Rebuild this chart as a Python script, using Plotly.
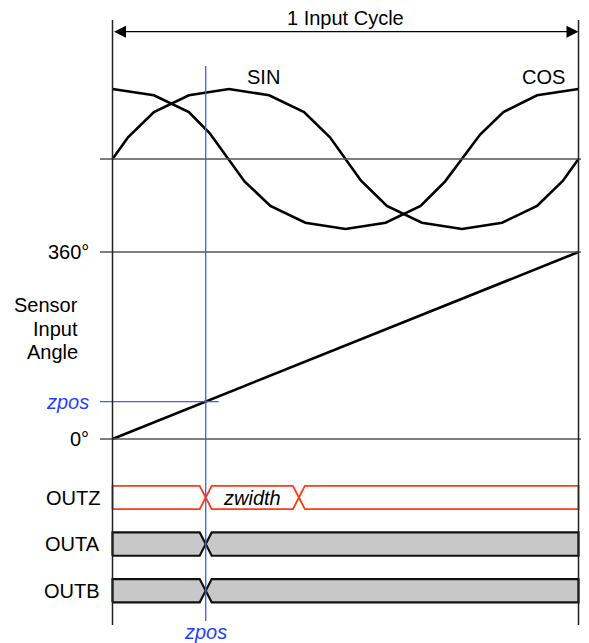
import plotly.graph_objects as go

# ---------------- data ----------------
sin_angle = [0, 12, 32, 59, 90, 121, 148, 168, 180, 192, 212, 239, 270, 301, 328, 348, 360]
sin_value = [0, 0.31, 0.67, 0.91, 1.0, 0.91, 0.67, 0.31, 0, -0.31, -0.67, -0.91, -1.0, -0.91, -0.67, -0.31, 0]
cos_angle = [0, 32, 59, 75, 102, 122, 149, 180, 211, 238, 257, 284, 302, 328, 360]
cos_value = [1.0, 0.91, 0.67, 0.37, -0.32, -0.67, -0.91, -1.0, -0.91, -0.67, -0.32, 0.35, 0.67, 0.91, 1.0]

ramp_time = [0, 360]
ramp_angle = [0, 360]

zpos = 72
zwidth = 72

signal_names = ["OUTZ", "OUTA", "OUTB"]
signal_transitions = [[zpos, zpos + zwidth], [zpos], [zpos]]
signal_line_colors = ["#ff3a14", "#111111", "#111111"]
signal_fill_colors = ["#ffffff", "#c8c8c8", "#c8c8c8"]

angle_ticks = [0, 360]
angle_tick_labels = ["0°", "360°"]

# ---------------- geometry (page pixels -> axis ranges) ----------------
OFF = 8                      # default page body margin
PW, PH = 589, 643            # page size
W, H = PW - OFF, PH - OFF    # figure size
X0_PX, DEG_PX = 112.5, 466.0 / 360.0

def fx(px):                  # page x pixel -> degrees
    return (px - X0_PX) / DEG_PX

def py(px):                  # page y pixel -> paper fraction
    return 1 - (px - OFF) / H

# sin/cos axis: zero at page px 159, amplitude 70 px
SZ, SA = 159.0, 70.0
# angle axis: 0 at page px 439, 360 at page px 252
AZ, AK = 439.0, 187.0 / 360.0
# digital rows: row 0 centre at page px 497.5, pitch 46.6 px
RZ, RP = 497.5, 46.6
HALF = 0.25
XH = 6.0 / DEG_PX

FONT = "Liberation Sans, Arial, sans-serif"
FS = 20
BLUE_LINE = "#3d5cff"
BLUE_TEXT = "#1f3fff"

fig = go.Figure()

fig.add_trace(go.Scatter(x=sin_angle, y=sin_value, mode="lines",
                         line=dict(color="#000000", width=2.6), yaxis="y", hoverinfo="skip"))
fig.add_trace(go.Scatter(x=cos_angle, y=cos_value, mode="lines",
                         line=dict(color="#000000", width=2.6), yaxis="y", hoverinfo="skip"))
fig.add_trace(go.Scatter(x=ramp_time, y=ramp_angle, mode="lines",
                         line=dict(color="#000000", width=2.6), yaxis="y2", hoverinfo="skip"))

for row, (name, trans, lc, fc) in enumerate(zip(signal_names, signal_transitions,
                                                  signal_line_colors, signal_fill_colors)):
    edges = [0] + list(trans) + [360]
    top, bot = row - HALF, row + HALF
    for i in range(len(edges) - 1):
        a, b = edges[i], edges[i + 1]
        lp = i > 0
        rp = i < len(edges) - 2
        xs, ys = [], []
        if lp:
            xs += [a, a + XH]; ys += [row, top]
        else:
            xs += [a, a]; ys += [bot, top]
        if rp:
            xs += [b - XH, b, b - XH]; ys += [top, row, bot]
        else:
            xs += [b, b]; ys += [top, bot]
        if lp:
            xs += [a + XH, a]; ys += [bot, row]
        else:
            xs += [a]; ys += [bot]
        fig.add_trace(go.Scatter(x=xs, y=ys, mode="lines", fill="toself", fillcolor=fc,
                                 line=dict(color=lc, width=1.8 if row == 0 else 2.2),
                                 yaxis="y3", hoverinfo="skip"))

shapes = []
xl, xrgt = fx(100), fx(PW)
shapes.append(dict(type="line", xref="x", yref="y", x0=xl, x1=xrgt, y0=0, y1=0,
                   line=dict(color="#555555", width=1.3)))
for t in angle_ticks:
    shapes.append(dict(type="line", xref="x", yref="y2", x0=xl, x1=xrgt, y0=t, y1=t,
                       line=dict(color="#555555", width=1.3)))
shapes.append(dict(type="line", xref="x", yref="y2", x0=xl, x1=zpos + 10, y0=zpos, y1=zpos,
                   line=dict(color=BLUE_LINE, width=1.3)))
for xv in [0, 360]:
    shapes.append(dict(type="line", xref="x", yref="paper", x0=xv, x1=xv, y0=py(625), y1=py(20),
                       line=dict(color="#222222", width=1.5)))
shapes.append(dict(type="line", xref="x", yref="paper", x0=zpos, x1=zpos, y0=py(621), y1=py(66),
                   line=dict(color=BLUE_LINE, width=1.3)))

ann = []
def txt(text, x, y, xanchor="center", color="#000000", italic=False, yref="paper"):
    t = f"<i>{text}</i>" if italic else text
    ann.append(dict(text=t, x=x, y=y, xref="x", yref=yref, xanchor=xanchor, yanchor="middle",
                    showarrow=False, font=dict(family=FONT, size=FS, color=color)))

ay_arrow = (SZ - 31.7) / SA
ann.append(dict(x=360, y=ay_arrow, ax=0, ay=ay_arrow, xref="x", yref="y",
                axref="x", ayref="y", text="", showarrow=True, arrowhead=2, arrowside="end+start",
                arrowsize=2.0, arrowwidth=1.2, arrowcolor="#000000", standoff=0, startstandoff=0))
txt("1 Input Cycle", 180, py(18.5))
txt("SIN", fx(263.3), py(77))
txt("COS", fx(543.3), py(77))

lx = fx(91)
for t, lab in zip(angle_ticks, angle_tick_labels):
    txt(lab, lx, t, xanchor="right", yref="y2")
txt("zpos", lx, zpos, xanchor="right", color=BLUE_TEXT, italic=True, yref="y2")
for line_text, ypx in zip(["Sensor", "Input", "Angle"], [305, 328.5, 352]):
    txt(line_text, fx(80), py(ypx), xanchor="right")

for row, name in enumerate(signal_names):
    txt(name, fx(102), row, xanchor="right", yref="y3")
txt("zwidth", zpos + zwidth / 2, 0, italic=True, yref="y3")
txt("zpos", zpos, py(632), color=BLUE_TEXT, italic=True)

hidden = dict(visible=False, showgrid=False, zeroline=False, fixedrange=True)
fig.update_layout(
    width=W, height=H, margin=dict(l=0, r=0, t=0, b=0),
    paper_bgcolor="#ffffff", plot_bgcolor="#ffffff", showlegend=False,
    xaxis=dict(range=[fx(OFF), fx(PW)], **hidden),
    yaxis=dict(range=[(SZ - PH) / SA, (SZ - OFF) / SA], **hidden),
    yaxis2=dict(range=[(AZ - PH) / AK, (AZ - OFF) / AK], overlaying="y", **hidden),
    yaxis3=dict(range=[(PH - RZ) / RP, (OFF - RZ) / RP], overlaying="y", **hidden),
    shapes=shapes, annotations=ann,
)

fig.write_html("out.html")
